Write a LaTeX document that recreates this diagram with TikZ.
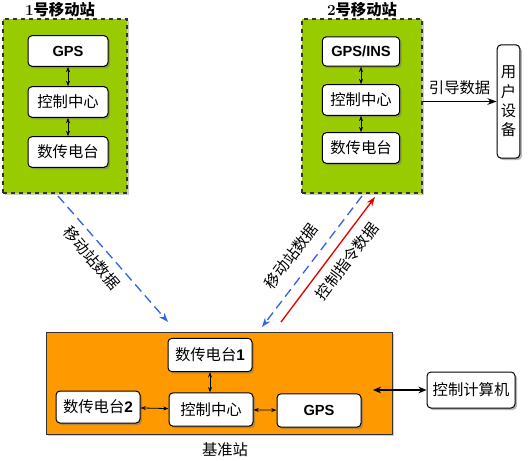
\documentclass[tikz,border=0pt]{standalone}
\usepackage{fontspec}
\setsansfont{Liberation Sans}
\newfontfamily\cjk{Noto Sans CJK SC}
\usetikzlibrary{shadows,arrows.meta}

\definecolor{stagreen}{RGB}{153,204,0}
\definecolor{staorange}{RGB}{255,153,0}
\definecolor{linkblue}{RGB}{51,102,230}
\definecolor{linkred}{RGB}{230,0,0}

\tikzset{every picture/.style={line width=0.75pt}}
\tikzset{
  unitbox/.style={draw, rounded corners=3pt, fill=white, inner sep=1pt,
    drop shadow={shadow xshift=1.5pt, shadow yshift=-1.5pt, fill=black!55},
    font=\cjk\fontsize{11.5}{13}\selectfont},
  mobilebox/.style={draw=black!80, dashed, fill=stagreen, line width=0.9pt,
    drop shadow={shadow xshift=1.5pt, shadow yshift=-1.5pt, fill=black!40}},
  basebox/.style={draw=black!80, fill=staorange,
    drop shadow={shadow xshift=1.5pt, shadow yshift=-1.5pt, fill=black!40}},
  dbl/.style={{Stealth[length=4pt,width=3pt]}-{Stealth[length=4pt,width=3pt]}, line width=0.6pt},
  radiolink/.style={dashed, dash pattern=on 7pt off 4pt, linkblue, line width=1pt, -{Stealth[length=7pt,width=5pt]}},
  title/.style={font=\cjk\fontsize{11.5}{13}\selectfont},
}

\begin{document}
\begin{tikzpicture}[x=0.75pt,y=0.75pt,yscale=-1,xscale=1]
        \useasboundingbox (0,0) rectangle (531,460);
        % mobile station 1
        \node [mobilebox, minimum width=93pt, minimum height=130.5pt] (ms1) at (65,106) {};
        \node [title] (ms1t) at (60,10) {{\bfseries\rmfamily 1}\textbf{号移动站}};
        \node [unitbox, minimum width=60pt, minimum height=23pt] (gpsa) at (68,51) {\sffamily\bfseries\fontsize{11}{13}\selectfont GPS};
        \node [unitbox, minimum width=60pt, minimum height=23pt] (ctra) at (68,102) {控制中心};
        \node [unitbox, minimum width=60pt, minimum height=23pt] (rada) at (68,152) {数传电台};
        \draw [dbl] (gpsa) -- (ctra);
        \draw [dbl] (ctra) -- (rada);
        % mobile station 2
        \node [mobilebox, minimum width=90pt, minimum height=130.5pt] (ms2) at (362,106) {};
        \node [title] (ms2t) at (362,10) {{\bfseries\rmfamily 2}\textbf{号移动站}};
        \node [unitbox, minimum width=58pt, minimum height=22pt] (gpsb) at (361,51.5) {\sffamily\bfseries\fontsize{11}{13}\selectfont GPS/INS};
        \node [unitbox, minimum width=58pt, minimum height=23pt] (ctrb) at (361,100) {控制中心};
        \node [unitbox, minimum width=58pt, minimum height=23pt] (radb) at (361,148) {数传电台};
        \draw [dbl] (gpsb) -- (ctrb);
        \draw [dbl] (ctrb) -- (radb);
        % user device
        \node [unitbox, minimum width=17pt, minimum height=85pt, align=center,
               font=\cjk\fontsize{11.5}{14.6}\selectfont] (user) at (508.5,101.5) {用\\户\\设\\备};
        \draw [-{Stealth[length=7pt,width=5pt]}, line width=1pt] (ms2.east |- user.west) -- (user.west)
              node [midway, above=1pt, title] (guide) {引导数据};
        % base station
        \node [basebox, minimum width=259.5pt, minimum height=76.5pt] (base) at (219,383) {};
        \node [title] (baset) at (225,450) {基准站};
        \node [unitbox, minimum width=63pt, minimum height=25pt] (brad1) at (210,355) {数传电台{\sffamily\bfseries 1}};
        \node [unitbox, minimum width=63pt, minimum height=24pt] (brad2) at (98,407) {数传电台{\sffamily\bfseries 2}};
        \node [unitbox, minimum width=63pt, minimum height=25pt] (bctr) at (211,409.5) {控制中心};
        \node [unitbox, minimum width=63pt, minimum height=25pt] (bgps) at (319,410.5) {\sffamily\bfseries\fontsize{11}{13}\selectfont GPS};
        \draw [dbl] (brad1) -- (brad1 |- bctr.north);
        \draw [dbl] (brad2) -- (bctr);
        \draw [dbl] (bctr) -- (bgps);
        % control computer
        \node [unitbox, minimum width=66pt, minimum height=27pt] (pc) at (471,390) {控制计算机};
        \coordinate (bout) at (373,390);
        \draw [{Stealth[length=6pt,width=5pt]}-{Stealth[length=6pt,width=5pt]}, line width=1pt] (bout) -- (pc);
        % radio links
        \coordinate (l1s) at (58,196);
        \coordinate (l1e) at (168,322);
        \coordinate (l2s) at (362,196);
        \coordinate (l2e) at (262,327);
        \coordinate (l3s) at (281,322);
        \coordinate (l3e) at (375,197);
        \draw [radiolink] (l1s) -- (l1e);
        \draw [radiolink] (l2s) -- (l2e);
        \draw [-{Stealth[length=7pt,width=5pt]}, linkred, line width=1pt] (l3s) -- (l3e);
        \node [title, rotate=-49] (lab1) at (92,258) {移动站数据};
        \node [title, rotate=53] (lab2) at (291,256) {移动站数据};
        \node [title, rotate=53] (lab3) at (347,261) {控制指令数据};
\end{tikzpicture}
\end{document}
